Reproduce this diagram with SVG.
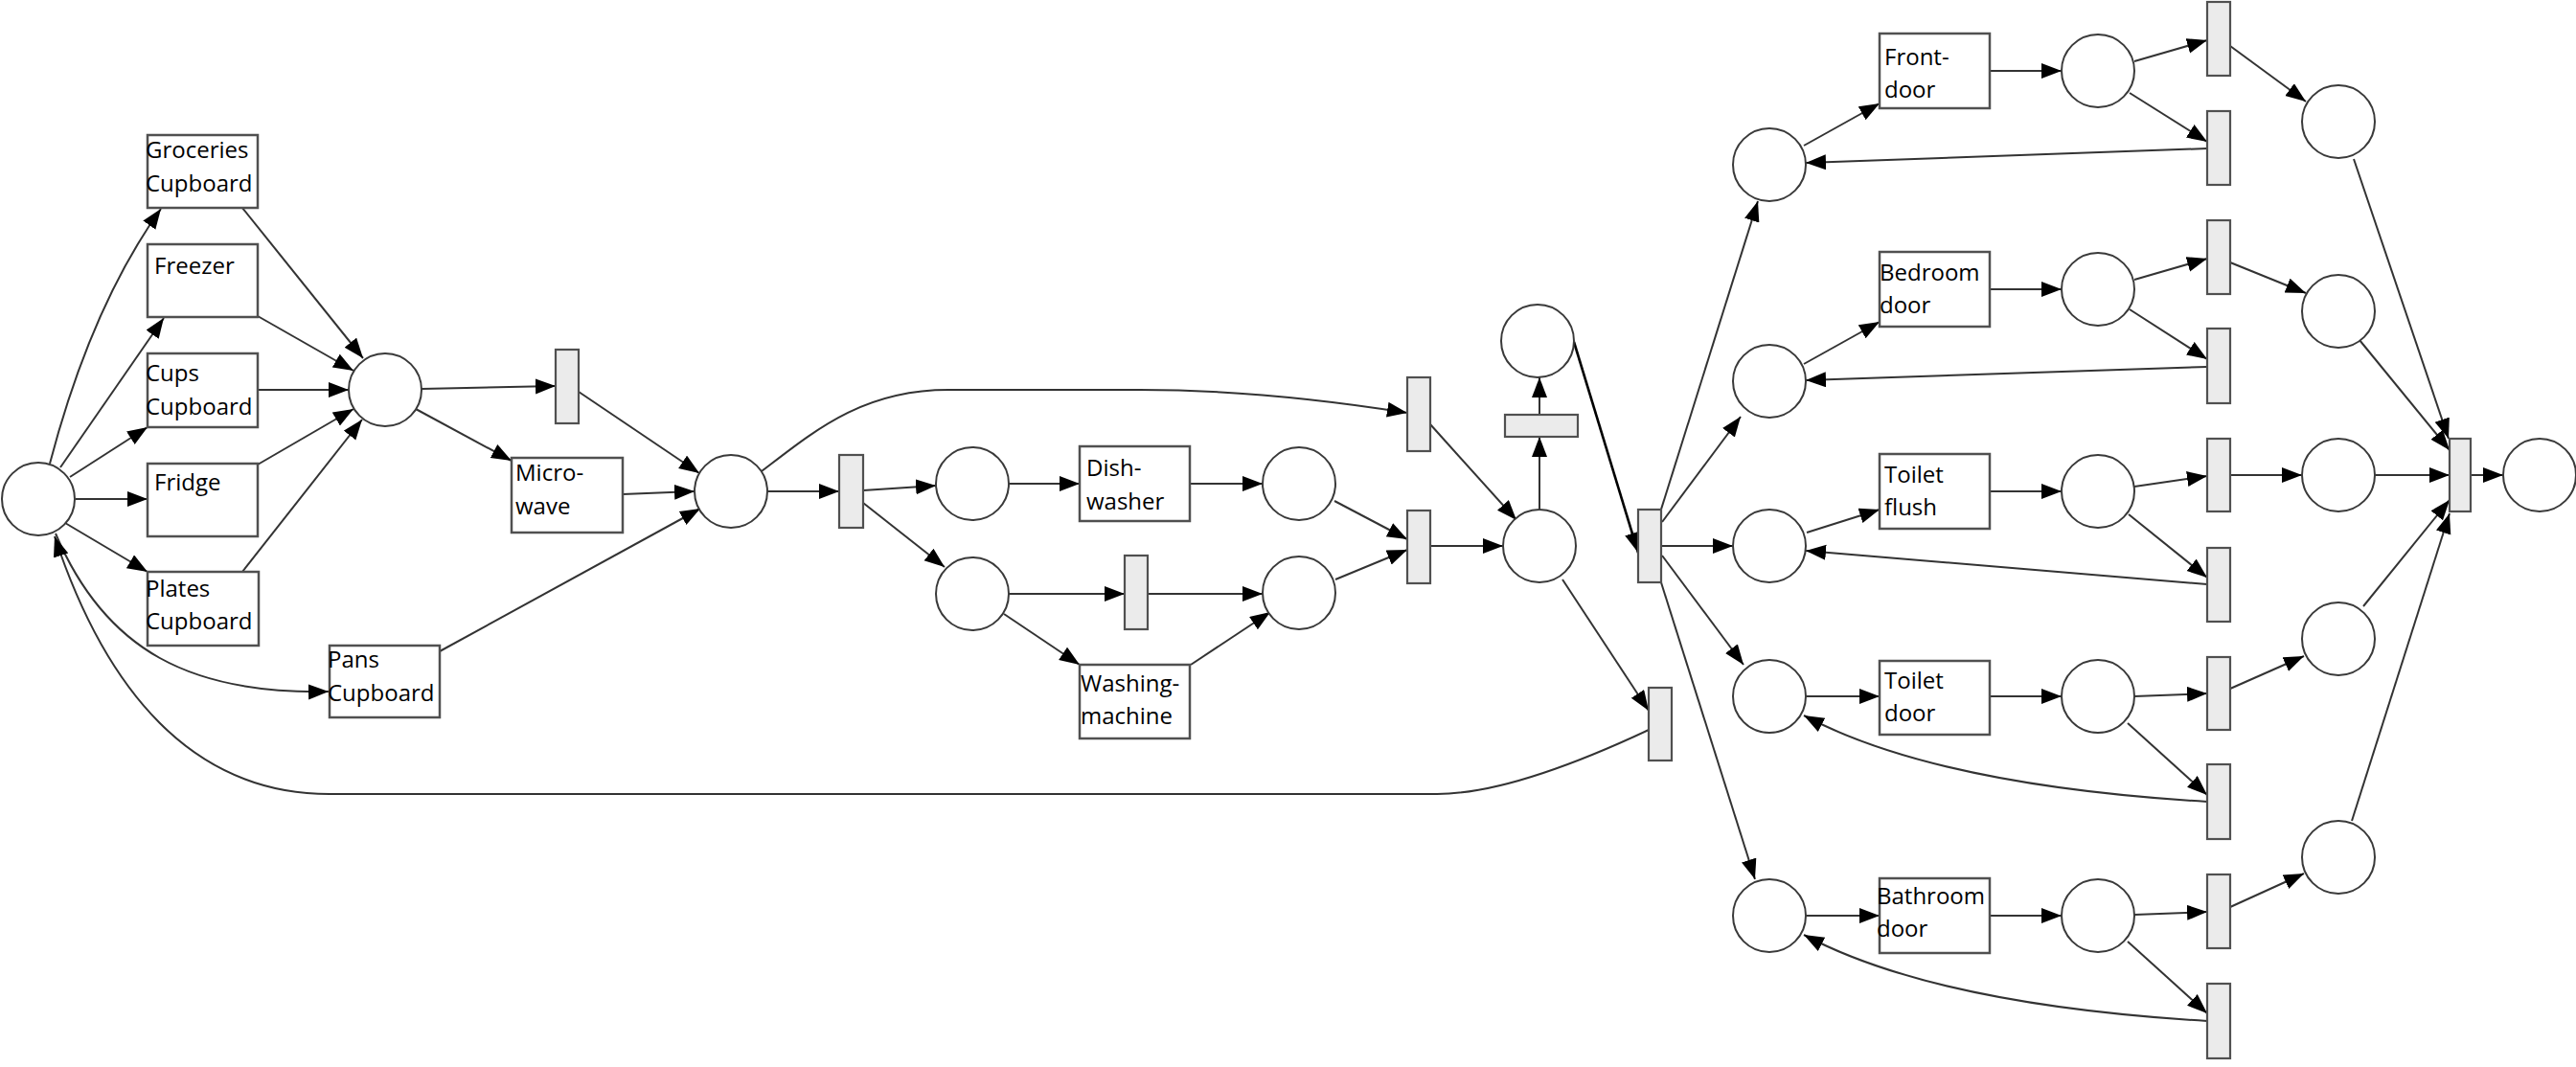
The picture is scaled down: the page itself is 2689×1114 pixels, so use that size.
<svg xmlns="http://www.w3.org/2000/svg" width="2689" height="1114" viewBox="0 0 2689 1114">
<style>
.pl{fill:#fff;stroke:#3a3a3a;stroke-width:2}
.tr{fill:#ebebeb;stroke:#505050;stroke-width:2.2}
.bx{fill:#fff;stroke:#505050;stroke-width:2.5}
.lb{font-family:"Open Sans","Noto Sans","Liberation Sans",sans-serif;font-size:24px;fill:#000}
.e{fill:none;stroke:#333;stroke-width:2;marker-end:url(#ah)}
.eb{fill:none;stroke:#000;stroke-width:2.6;marker-end:url(#ah)}
</style>
<defs>
<marker id="ah" markerUnits="userSpaceOnUse" markerWidth="22" markerHeight="18" refX="21" refY="8" orient="auto">
<path d="M0,0 L21,8 L0,16 z" fill="#000"/>
</marker>
</defs>
<rect width="2689" height="1114" fill="#fff"/>
<g id="connectors">
<path class="e" d="M52,484 Q95,320 168,218"/>
<path class="e" d="M63,488 L171,332"/>
<path class="e" d="M73,498 L154,446"/>
<path class="e" d="M79,521 L154,521"/>
<path class="e" d="M68,546 L154,597"/>
<path class="e" d="M58,557 C110,680 200,725 343,722"/>
<path class="e" d="M253,217 L379,374"/>
<path class="e" d="M269,330 L369,387"/>
<path class="e" d="M269,407 L364,407"/>
<path class="e" d="M269,485 L369,427"/>
<path class="e" d="M253,597 L378,438"/>
<path class="e" d="M440,406 L580,403"/>
<path class="e" d="M434,427 L534,481"/>
<path class="e" d="M604,409 L730,494"/>
<path class="e" d="M650,516 L725,513"/>
<path class="e" d="M459,680 L731,531"/>
<path class="e" d="M795,492 C850,450 900,407 990,407 L1190,407 C1300,407 1400,420 1469,431"/>
<path class="e" d="M801,513 L876,513"/>
<path class="e" d="M901,512 L977,507"/>
<path class="e" d="M901,525 L986,592"/>
<path class="e" d="M1053,505 L1127,505"/>
<path class="e" d="M1242,505 L1318,505"/>
<path class="e" d="M1053,620 L1174,620"/>
<path class="e" d="M1198,620 L1318,620"/>
<path class="e" d="M1048,641 L1127,694"/>
<path class="e" d="M1243,694 L1326,639"/>
<path class="e" d="M1393,523 L1469,563"/>
<path class="e" d="M1394,605 L1469,574"/>
<path class="e" d="M1493,570 L1569,570"/>
<path class="e" d="M1493,443 L1583,543"/>
<path class="e" d="M1607,532 L1607,456"/>
<path class="e" d="M1607,433 L1607,394"/>
<path class="eb" d="M1643,357 L1710,577"/>
<path class="e" d="M1631,605 L1721,742"/>
<path class="e" d="M1721,762 C1640,800 1560,829 1500,829 L344,829 C200,829 110,720 57,560"/>
<path class="e" d="M1733,535 L1835,210"/>
<path class="e" d="M1735,545 L1817,435"/>
<path class="e" d="M1735,570 L1809,570"/>
<path class="e" d="M1735,580 L1820,694"/>
<path class="e" d="M1733,605 L1832,918"/>
<path class="e" d="M1883,152 L1962,108"/>
<path class="e" d="M2077,74 L2152,74"/>
<path class="e" d="M2228,64 L2304,42"/>
<path class="e" d="M2223,97 L2304,148"/>
<path class="e" d="M2304,155 L1885,170"/>
<path class="e" d="M2328,48 L2407,106"/>
<path class="e" d="M2457,166 L2556,458"/>
<path class="e" d="M1883,380 L1962,336"/>
<path class="e" d="M2077,302 L2152,302"/>
<path class="e" d="M2228,292 L2304,270"/>
<path class="e" d="M2223,323 L2304,375"/>
<path class="e" d="M2304,383 L1885,397"/>
<path class="e" d="M2328,274 L2407,306"/>
<path class="e" d="M2463,355 L2557,470"/>
<path class="e" d="M1886,556 L1962,532"/>
<path class="e" d="M2077,513 L2152,513"/>
<path class="e" d="M2228,508 L2304,497"/>
<path class="e" d="M2222,537 L2304,603"/>
<path class="e" d="M2304,610 L1885,575"/>
<path class="e" d="M2328,496 L2403,496"/>
<path class="e" d="M2479,496 L2557,496"/>
<path class="e" d="M2578,496 L2613,496"/>
<path class="e" d="M1885,727 L1962,727"/>
<path class="e" d="M2077,727 L2152,727"/>
<path class="e" d="M2228,727 L2304,724"/>
<path class="e" d="M2221,755 L2304,830"/>
<path class="e" d="M2304,837 Q2020,820 1883,747"/>
<path class="e" d="M2328,719 L2405,685"/>
<path class="e" d="M2467,633 L2557,522"/>
<path class="e" d="M1885,956 L1962,956"/>
<path class="e" d="M2077,956 L2152,956"/>
<path class="e" d="M2228,955 L2304,952"/>
<path class="e" d="M2221,983 L2304,1058"/>
<path class="e" d="M2304,1066 Q2020,1049 1883,976"/>
<path class="e" d="M2328,947 L2405,912"/>
<path class="e" d="M2455,857 L2557,536"/>
</g>
<g id="p_start"><circle class="pl" cx="40" cy="521" r="38"/></g>
<g id="p_merge"><circle class="pl" cx="402" cy="407" r="38"/></g>
<g id="p2"><circle class="pl" cx="763" cy="513" r="38"/></g>
<g id="p3"><circle class="pl" cx="1015" cy="505" r="38"/></g>
<g id="p4"><circle class="pl" cx="1015" cy="620" r="38"/></g>
<g id="p5"><circle class="pl" cx="1356" cy="505" r="38"/></g>
<g id="p6"><circle class="pl" cx="1356" cy="619" r="38"/></g>
<g id="p7"><circle class="pl" cx="1607" cy="570" r="38"/></g>
<g id="p8"><circle class="pl" cx="1605" cy="356" r="38"/></g>
<g id="r1"><circle class="pl" cx="1847" cy="172" r="38"/></g>
<g id="r2"><circle class="pl" cx="1847" cy="398" r="38"/></g>
<g id="r3"><circle class="pl" cx="1847" cy="570" r="38"/></g>
<g id="r4"><circle class="pl" cx="1847" cy="727" r="38"/></g>
<g id="r5"><circle class="pl" cx="1847" cy="956" r="38"/></g>
<g id="f1"><circle class="pl" cx="2190" cy="74" r="38"/></g>
<g id="b1"><circle class="pl" cx="2190" cy="302" r="38"/></g>
<g id="tf1"><circle class="pl" cx="2190" cy="513" r="38"/></g>
<g id="td1"><circle class="pl" cx="2190" cy="727" r="38"/></g>
<g id="bd1"><circle class="pl" cx="2190" cy="956" r="38"/></g>
<g id="fe"><circle class="pl" cx="2441" cy="127" r="38"/></g>
<g id="be"><circle class="pl" cx="2441" cy="325" r="38"/></g>
<g id="tfe"><circle class="pl" cx="2441" cy="496" r="38"/></g>
<g id="tde"><circle class="pl" cx="2441" cy="667" r="38"/></g>
<g id="bde"><circle class="pl" cx="2441" cy="895" r="38"/></g>
<g id="p_end"><circle class="pl" cx="2651" cy="496" r="38"/></g>
<g id="t1"><rect class="tr" x="580" y="365" width="24" height="77"/></g>
<g id="t2"><rect class="tr" x="876" y="475" width="25" height="76"/></g>
<g id="t3"><rect class="tr" x="1469" y="394" width="24" height="77"/></g>
<g id="t4"><rect class="tr" x="1174" y="580" width="24" height="77"/></g>
<g id="t5"><rect class="tr" x="1469" y="533" width="24" height="76"/></g>
<g id="t6"><rect class="tr" x="1571" y="433" width="76" height="23"/></g>
<g id="t7"><rect class="tr" x="1710" y="532" width="24" height="76"/></g>
<g id="t8"><rect class="tr" x="1721" y="718" width="24" height="76"/></g>
<g id="ft1"><rect class="tr" x="2304" y="2" width="24" height="77"/></g>
<g id="ft2"><rect class="tr" x="2304" y="116" width="24" height="77"/></g>
<g id="bt1"><rect class="tr" x="2304" y="230" width="24" height="77"/></g>
<g id="bt2"><rect class="tr" x="2304" y="343" width="24" height="78"/></g>
<g id="tft1"><rect class="tr" x="2304" y="458" width="24" height="76"/></g>
<g id="tft2"><rect class="tr" x="2304" y="572" width="24" height="77"/></g>
<g id="tdt1"><rect class="tr" x="2304" y="686" width="24" height="76"/></g>
<g id="tdt2"><rect class="tr" x="2304" y="798" width="24" height="78"/></g>
<g id="bdt1"><rect class="tr" x="2304" y="913" width="24" height="77"/></g>
<g id="bdt2"><rect class="tr" x="2304" y="1027" width="24" height="78"/></g>
<g id="t_final"><rect class="tr" x="2557" y="458" width="22" height="76"/></g>
<g id="groceries"><rect class="bx" x="154" y="141" width="115" height="76"/><text class="lb" x="152" y="165">Groceries</text><text class="lb" x="152" y="200">Cupboard</text></g>
<g id="freezer"><rect class="bx" x="154" y="255" width="115" height="76"/><text class="lb" x="161" y="286">Freezer</text></g>
<g id="cups"><rect class="bx" x="154" y="369" width="115" height="77"/><text class="lb" x="152" y="398">Cups</text><text class="lb" x="152" y="433">Cupboard</text></g>
<g id="fridge"><rect class="bx" x="154" y="484" width="115" height="76"/><text class="lb" x="161" y="512">Fridge</text></g>
<g id="plates"><rect class="bx" x="154" y="597" width="116" height="77"/><text class="lb" x="152" y="623">Plates</text><text class="lb" x="152" y="657">Cupboard</text></g>
<g id="pans"><rect class="bx" x="344" y="674" width="115" height="75"/><text class="lb" x="342" y="697">Pans</text><text class="lb" x="342" y="732">Cupboard</text></g>
<g id="microwave"><rect class="bx" x="534" y="478" width="116" height="78"/><text class="lb" x="538" y="502">Micro-</text><text class="lb" x="538" y="537">wave</text></g>
<g id="dishwasher"><rect class="bx" x="1127" y="466" width="115" height="78"/><text class="lb" x="1134" y="497">Dish-</text><text class="lb" x="1134" y="532">washer</text></g>
<g id="washing"><rect class="bx" x="1127" y="694" width="115" height="77"/><text class="lb" x="1128" y="722">Washing-</text><text class="lb" x="1128" y="756">machine</text></g>
<g id="frontdoor"><rect class="bx" x="1962" y="35" width="115" height="78"/><text class="lb" x="1967" y="68">Front-</text><text class="lb" x="1967" y="102">door</text></g>
<g id="bedroom"><rect class="bx" x="1962" y="263" width="115" height="78"/><text class="lb" x="1962" y="293">Bedroom</text><text class="lb" x="1962" y="327">door</text></g>
<g id="toiletflush"><rect class="bx" x="1962" y="474" width="115" height="78"/><text class="lb" x="1967" y="504">Toilet</text><text class="lb" x="1967" y="538">flush</text></g>
<g id="toiletdoor"><rect class="bx" x="1962" y="690" width="115" height="77"/><text class="lb" x="1967" y="719">Toilet</text><text class="lb" x="1967" y="753">door</text></g>
<g id="bathroom"><rect class="bx" x="1962" y="917" width="115" height="78"/><text class="lb" x="1959" y="944">Bathroom</text><text class="lb" x="1959" y="978">door</text></g>
</svg>
